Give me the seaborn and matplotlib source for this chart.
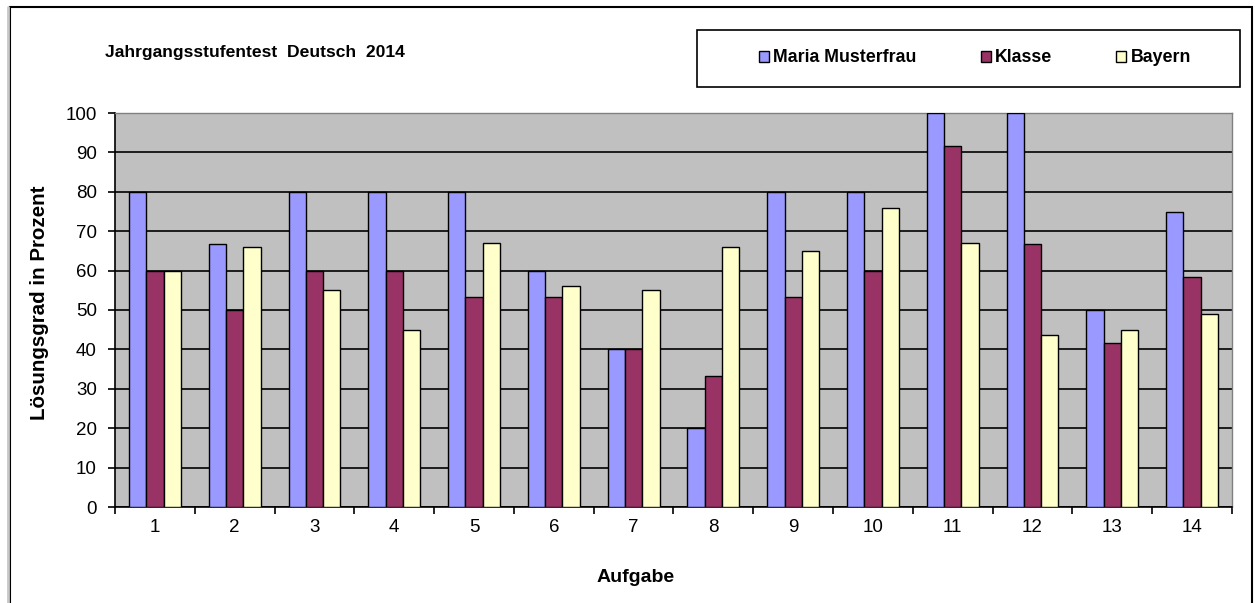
import matplotlib
matplotlib.use('Agg')
import matplotlib.pyplot as plt
from matplotlib.patches import Rectangle, Patch
from matplotlib.lines import Line2D
import seaborn as sns
import pandas as pd

# Daten
aufgaben = [str(i) for i in range(1, 15)]
reihen = ['Maria Musterfrau', 'Klasse', 'Bayern']
maria = [80, 66.7, 80, 80, 80, 60, 40, 20, 80, 80, 100, 100, 50, 75]
klasse = [60, 50, 60, 60, 53.3, 53.3, 40, 33.3, 53.3, 60, 91.5, 66.7, 41.7, 58.3]
bayern = [60, 66, 55, 45, 67, 56, 55, 66, 65, 76, 67, 43.7, 45, 49]
farben = ['#9999FF', '#993366', '#FFFFCC']

df = pd.DataFrame({
    'Aufgabe': aufgaben * 3,
    'Wert': maria + klasse + bayern,
    'Reihe': [reihen[0]] * 14 + [reihen[1]] * 14 + [reihen[2]] * 14,
})

sns.set_style('white')
plt.rcParams['font.family'] = ['Liberation Sans', 'DejaVu Sans']
plt.rcParams['text.color'] = 'black'
plt.rcParams['xtick.color'] = 'black'
plt.rcParams['ytick.color'] = 'black'

fig = plt.figure(figsize=(12.55, 6.03), dpi=100)
ax = fig.add_axes([115 / 1255, 1 - 507 / 603, 1117 / 1255, 394 / 603])
ax.set_facecolor('#C0C0C0')

sns.barplot(data=df, x='Aufgabe', y='Wert', hue='Reihe', palette=farben,
            saturation=1, width=0.65, edgecolor='black', linewidth=1,
            legend=False, ax=ax, zorder=3)

ax.set_ylim(0, 100)
ax.set_xlim(-0.5, 13.5)
ax.set_yticks(range(0, 101, 10))
ax.yaxis.grid(True, color='black', linewidth=1.2, zorder=1)
ax.set_axisbelow(True)
ax.set_xlabel('')
ax.set_ylabel('')

# Ticks: Beschriftung in der Mitte, Striche an den Grenzen
ax.set_xticks(range(14))
ax.set_xticklabels(aufgaben)
ax.set_xticks([i - 0.5 for i in range(15)], minor=True)
ax.tick_params(axis='x', which='major', length=0, pad=9, labelsize=13.5)
ax.tick_params(axis='x', which='minor', length=5, width=1.2, color='black',
               direction='out', bottom=True)
ax.tick_params(axis='y', length=5, width=1.2, color='black', direction='out',
               left=True, pad=8, labelsize=13.5)

for s in ['left', 'bottom']:
    ax.spines[s].set_color('black')
    ax.spines[s].set_linewidth(1.2)
for s in ['top', 'right']:
    ax.spines[s].set_color('#808080')
    ax.spines[s].set_linewidth(1)

# Texte
fig.text(105 / 1255, 1 - 52 / 603, 'Jahrgangsstufentest  Deutsch  2014',
         ha='left', va='center', fontsize=12.6, fontweight='bold')
fig.text(40 / 1255, 1 - 303 / 603, 'Lösungsgrad in Prozent', rotation=90,
         ha='center', va='center', fontsize=14.8, fontweight='bold')
fig.text(636 / 1255, 1 - 577 / 603, 'Aufgabe', ha='center', va='center',
         fontsize=14, fontweight='bold')

# Legende mit eigenem Rahmen
fig.patches.append(Rectangle((697 / 1255, 1 - 87 / 603), 543 / 1255, 57 / 603,
                             transform=fig.transFigure, fill=False,
                             edgecolor='black', linewidth=1.2))
handles = [Patch(facecolor=c, edgecolor='black', linewidth=1) for c in farben]
leg = fig.legend(handles, reihen, loc='center', ncol=3, frameon=False,
                 bbox_to_anchor=(975 / 1255, 1 - 58 / 603),
                 prop={'weight': 'bold', 'size': 12.8},
                 handlelength=0.55, handleheight=0.55, handletextpad=0.25,
                 columnspacing=3.6)

# Rahmen des Diagramms und Tabellenrand links
fig.patches.append(Rectangle((10 / 1255, -0.05), 1242 / 1255, 1.05 - 7 / 603,
                             transform=fig.transFigure, fill=False,
                             edgecolor='black', linewidth=1.5))
fig.lines.append(Line2D([8 / 1255, 8 / 1255], [0, 1 - 7 / 603],
                        transform=fig.transFigure, color='#C8C8C8',
                        linewidth=2))

fig.savefig('out.png', dpi=100)
